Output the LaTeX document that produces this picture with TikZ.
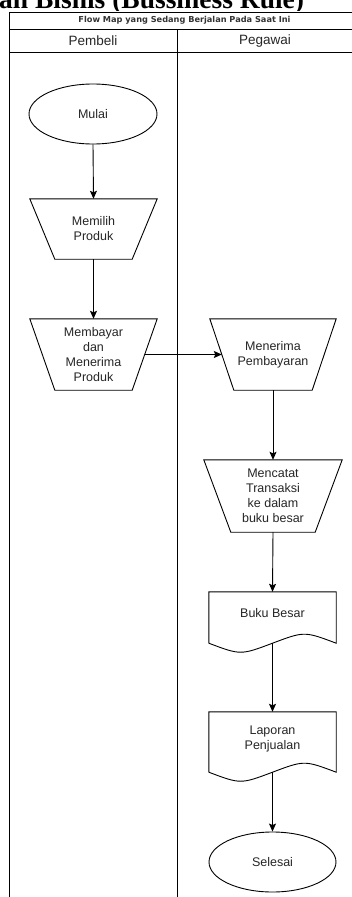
\documentclass[tikz,border=0pt]{standalone}
\usepackage{fontspec}
\setmainfont{Liberation Sans}
\newfontfamily\headfont{Liberation Serif}
\newfontfamily\titlefont{DejaVu Sans}
\usetikzlibrary{arrows.meta,calc,shapes.geometric}
\begin{document}
\begin{tikzpicture}[x=1pt,y=-1pt,
  lbl/.style={font=\fontsize{12.5}{15}\selectfont, text=black!85, align=center, inner sep=0pt},
  box/.style={lbl, minimum width=127pt},
  hdr/.style={font=\headfont\bfseries\fontsize{27.5}{30}\selectfont, inner sep=0pt, anchor=base west},
  flow/.style={draw, line width=0.9pt, -{Stealth[length=8pt,width=7pt,inset=1.5pt]}},
  frame/.style={line width=0.9pt},
  term/.style={lbl, draw, ellipse, line width=0.9pt, minimum width=128pt, minimum height=60pt}
]
\useasboundingbox (0,0) rectangle (352,897);
% cut-off heading
\node[hdr] (heading) at (-1,8.5) {an Bisnis (Bussiness Rule)};
\fill[white] (0,11) rectangle (352,897);
% frame
\draw[frame] (9,900) -- (9,12) -- (360,12);
\draw[frame] (9,29) -- (360,29);
\draw[frame] (9,52) -- (360,52);
\draw[frame] (177,29) -- (177,900);
\node[font=\titlefont\bfseries\fontsize{8.2}{10}\selectfont, text=black!80, inner sep=0pt] (title) at (184.5,20.5) {Flow Map yang Sedang Berjalan Pada Saat Ini};
\node[lbl, font=\fontsize{13.5}{15}\selectfont] (pembeli) at (93,41) {Pembeli};
\node[lbl, font=\fontsize{13.5}{15}\selectfont] (pegawai) at (265,41) {Pegawai};
% nodes
\node[term] (mulai) at (93,114) {Mulai};
\node[box, minimum height=60pt] (memilih) at (93.5,229) {Memilih\\Produk};
\draw[frame] (memilih.north west) -- (memilih.north east) -- ($(memilih.south east)+(-25,0)$) -- ($(memilih.south west)+(25,0)$) -- cycle;
\node[box, minimum height=71pt] (membayar) at (93.5,354.5) {Membayar\\dan\\Menerima\\Produk};
\draw[frame] (membayar.north west) -- (membayar.north east) -- ($(membayar.south east)+(-25,0)$) -- ($(membayar.south west)+(25,0)$) -- cycle;
\node[box, minimum width=126pt, minimum height=71pt] (menerima) at (273,354.5) {Menerima\\Pembayaran};
\draw[frame] (menerima.north west) -- (menerima.north east) -- ($(menerima.south east)+(-24,0)$) -- ($(menerima.south west)+(24,0)$) -- cycle;
\node[box, minimum width=138pt, minimum height=72pt] (mencatat) at (273,496) {Mencatat\\Transaksi\\ke dalam\\buku besar};
\draw[frame] (mencatat.north west) -- (mencatat.north east) -- ($(mencatat.south east)+(-27,0)$) -- ($(mencatat.south west)+(27,0)$) -- cycle;
% documents
\node[box, minimum height=51pt] (bb) at (272.5,617.5) {};
\node[lbl] (bbt) at (272.5,613) {Buku Besar};
\draw[frame] (bb.south west) -- (bb.north west) -- (bb.north east) -- (bb.south east)
  .. controls ($(bb.south east)!0.25!(bb.south west)+(0,-12)$) .. (bb.south)
  .. controls ($(bb.south east)!0.75!(bb.south west)+(0,12)$) .. (bb.south west);
\node[box, minimum height=60pt] (lp) at (272.5,742) {};
\node[lbl] (lpt) at (272.5,738.5) {Laporan\\Penjualan};
\draw[frame] (lp.south west) -- (lp.north west) -- (lp.north east) -- (lp.south east)
  .. controls ($(lp.south east)!0.25!(lp.south west)+(0,-12)$) .. (lp.south)
  .. controls ($(lp.south east)!0.75!(lp.south west)+(0,12)$) .. (lp.south west);
\node[term, minimum width=127pt] (selesai) at (272.5,862) {Selesai};
% connectors
\draw[flow] (mulai.south) -- (memilih.north);
\draw[flow] (memilih.south) -- (membayar.north);
\draw[flow] ($(membayar.east)+(-12.5,0)$) -- ($(menerima.west)+(12,0)$);
\draw[flow] (menerima.south) -- (mencatat.north);
\draw[flow] (mencatat.south) -- (bb.north);
\draw[flow] (bb.south) -- (lp.north);
\draw[flow] (lp.south) -- (selesai.north);
\end{tikzpicture}
\end{document}
